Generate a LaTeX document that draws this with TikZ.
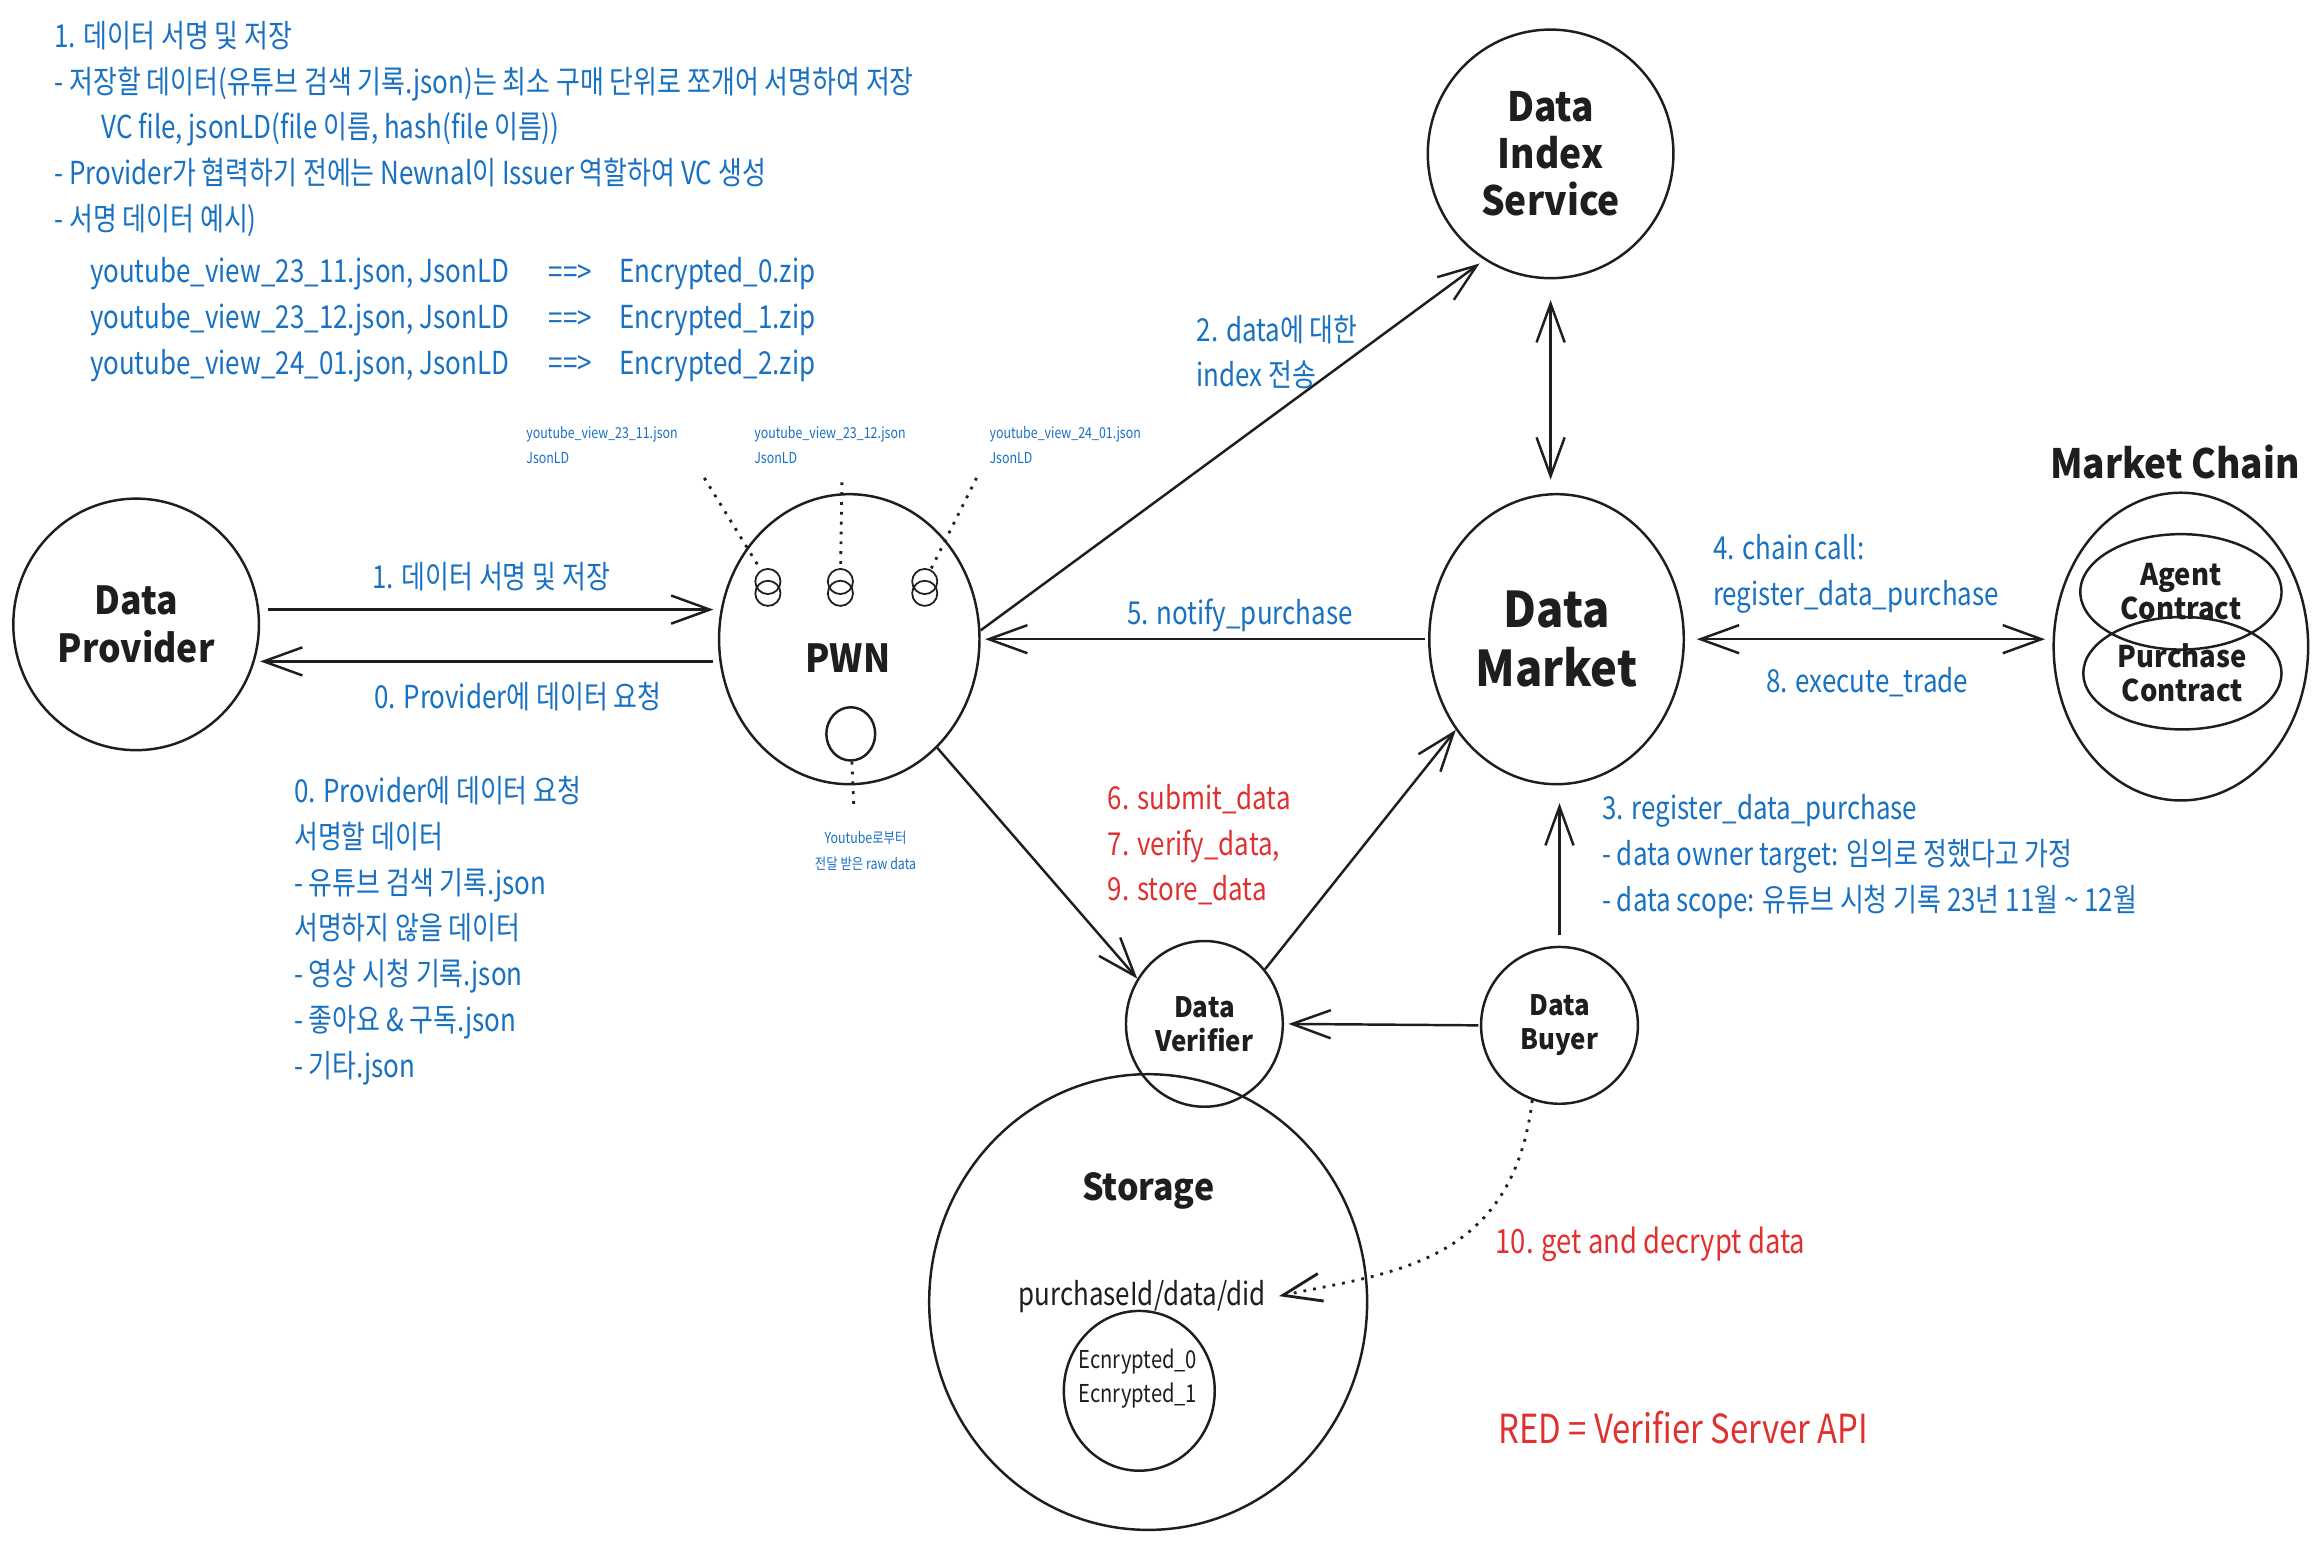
\documentclass[tikz,border=0pt]{standalone}
\usepackage{fontspec}
\setmainfont{Noto Sans CJK KR}[FakeStretch=0.82]
\newfontfamily\titlefont{Noto Sans CJK KR}[FakeStretch=0.92]
\usetikzlibrary{shapes.geometric,arrows.meta}
\definecolor{ink}{HTML}{1E1E1E}
\definecolor{note}{HTML}{1971C2}
\definecolor{api}{HTML}{E03131}
\def\px{0.14796mm} % one pixel of the sketch

\tikzset{every picture/.style={line width=0.7pt}}
\tikzset{
  blob/.style 2 args={draw=ink, ellipse, inner sep=0pt, text=ink,
                minimum width=#1*\px, minimum height=#2*\px, align=center},
  ttl/.style 2 args={font=\titlefont\bfseries\fontsize{#1}{#2}\selectfont},
  txt/.style={font=\fontsize{9}{13}\selectfont, text=#1, inner sep=0pt, align=left},
  txt/.default={note},
  tiny/.style={font=\fontsize{4.3}{7.2}\selectfont, text=note, inner sep=0pt, align=left},
  eye/.style={draw=ink, circle, inner sep=0pt, minimum size=17*\px, line width=0.5pt},
  arr/.style={draw=ink, -{Straight Barb[length=11pt,width=8pt]}},
  arr2/.style={draw=ink, {Straight Barb[length=11pt,width=8pt]}-{Straight Barb[length=11pt,width=8pt]}},
  dots/.style={draw=ink, dotted, line width=0.8pt},
}

\begin{document}
\begin{tikzpicture}[x=\px, y=-\px]
  \path[use as bounding box, fill=white] (0,0) rectangle (1568,1049);

  % notes | top left
  \node[txt, anchor=west] (note1) at (36,87) {1. 데이터 서명 및 저장\\- 저장할 데이터(유튜브 검색 기록.json)는 최소 구매 단위로 쪼개어 서명하여 저장\\\hspace*{4.7mm}VC file, jsonLD(file 이름, hash(file 이름))\\- Provider가 협력하기 전에는 Newnal이 Issuer 역할하여 VC 생성\\- 서명 데이터 예시)};
  \foreach \f/\z [count=\i] in {23\_11/0,23\_12/1,24\_01/2} {
      \node[txt, anchor=west] (ex\i) at (60,{154+31*\i}) {youtube\_view\_\f.json, JsonLD};
      \node[txt, anchor=west] (to\i) at (370,{154+31*\i}) {==>};
      \node[txt, anchor=west] (enc\i) at (418,{154+31*\i}) {Encrypted\_\z.zip};
  };

  % nodes
  \node[blob={166}{170}, ttl={11}{13.4}] (prov) at (92,422) {Data\\Provider};
  \node[blob={176}{196}] (pwn) at (574,432) {};
  \node[ttl={11}{13}, text=ink, inner sep=0pt] (pwnlbl) at (573,445) {PWN};
  \node[blob={166}{168}, ttl={11.5}{13.4}] (dis) at (1048,104) {Data\\Index\\Service};
  \node[blob={172}{196}, ttl={14}{16.8}] (dm) at (1052,432) {Data\\Market};
  \node[blob={172}{208}] (mc) at (1474,437) {};
  \node[ttl={11.5}{13}, text=ink] (mclbl) at (1470,312) {Market Chain};
  \node[blob={136}{78}, ttl={8.5}{9.7}] (agent) at (1474,400) {Agent\\Contract};
  \node[blob={134}{76}, ttl={8.5}{9.7}] (purch) at (1475,455) {Purchase\\Contract};
  \node[blob={106}{112}, ttl={8}{9.7}] (dv) at (814,692) {Data\\Verifier};
  \node[blob={106}{106}, ttl={8}{9.7}] (db) at (1054,693) {Data\\Buyer};
  \node[blob={296}{308}] (st) at (776,880) {};
  \node[ttl={10.5}{12}, text=ink] (stlbl) at (776,805) {Storage};
  \node[txt=ink] (pdd) at (772,876) {purchaseId/data/did};
  \node[blob={102}{108}] (box) at (770,940) {};
  \node[txt=ink, align=center, font=\fontsize{7}{9.7}\selectfont] (boxlbl) at (769,932) {Ecnrypted\_0\\Ecnrypted\_1};

  % pwn face | eyes drawn twice, dotted to the file labels
  \foreach \x/\f [count=\i] in {519/23\_11,568/23\_12,625/24\_01} {
      \node[eye] (eye\i) at (\x,393) {};
      \node[eye] (eyeb\i) at (\x,401) {};
  };
  \node[blob={33}{36}] (mouth) at (575,496) {};
  \coordinate (tip1) at (476,323);
  \coordinate (tip2) at (569,326);
  \coordinate (tip3) at (660,323);
  \coordinate (raw) at (577,544);
  \foreach \i in {1,2,3} \draw[dots] (tip\i) -- (eye\i);
  \draw[dots] (mouth) -- (raw);
  \foreach \x/\f [count=\i] in {355/23\_11,509/23\_12,668/24\_01}
      \node[tiny, anchor=west] (vc\i) at (\x,301) {youtube\_view\_\f.json\\JsonLD};
  \node[tiny, align=center] (rawlbl) at (585,575) {Youtube로부터\\전달 받은 raw data};

  % connectors
  \coordinate (a1s) at ([yshift=10*\px]prov.east);
  \coordinate (a0s) at ([yshift=-15*\px]pwn.west);
  \draw[arr, shorten <=5*\px, shorten >=3*\px] (a1s) -- (a1s -| pwn.west);
  \draw[arr, shorten <=3*\px] (a0s) -- (a0s -| prov.east);
  \draw[arr, shorten <=2*\px, shorten >=3*\px] (dm.west) -- (pwn.east);
  \draw[arr, shorten >=4*\px] ([yshift=6*\px]pwn.east) -- (dis.238);
  \draw[arr2, shorten <=14*\px, shorten >=9*\px] (dis.south) -- (dis.south |- dm.north);
  \draw[arr2, shorten <=8*\px, shorten >=5*\px] (dm.east) -- (dm.east -| mc.west);
  \draw[arr] (pwn.309) -- (dv.146);
  \draw[arr] (dv.42) -- (dm.222);
  \draw[arr, shorten <=7*\px, shorten >=12*\px] (db.north) -- (db.north |- dm.south);
  \draw[arr, shorten <=1*\px, shorten >=3*\px] (db.west) -- (dv.east);
  \draw[dots, arr] (db.250) .. controls (1022,855) and (940,860) .. ([xshift=8*\px]pdd.east);

  % labels
  \node[txt] (l1) at (332,390) {1. 데이터 서명 및 저장};
  \node[txt] (l0) at (350,471) {0. Provider에 데이터 요청};
  \node[txt] (l5) at (838,416) {5. notify\_purchase};
  \node[txt, anchor=west] (l2) at (808,238) {2. data에 대한\\index 전송};
  \node[txt, anchor=west] (l4) at (1157,388) {4. chain call:\\register\_data\_purchase};
  \node[txt] (l8) at (1262,461) {8. execute\_trade};
  \node[txt=api, anchor=west] (l6) at (748,571) {6. submit\_data\\7. verify\_data,\\9. store\_data};
  \node[txt, anchor=west] (l3) at (1082,579) {3. register\_data\_purchase\\- data owner target: 임의로 정했다고 가정\\- data scope: 유튜브 시청 기록 23년 11월 \textasciitilde{} 12월};
  \node[txt=api, anchor=west, font=\fontsize{9.5}{13}\selectfont] (l10) at (1010,841) {10. get and decrypt data};
  \node[txt=api, anchor=west, font=\fontsize{11.4}{13}\selectfont] (legend) at (1012,965) {RED = Verifier Server API};
  \node[txt, anchor=west] (req) at (198,629) {0. Provider에 데이터 요청\\서명할 데이터\\- 유튜브 검색 기록.json\\서명하지 않을 데이터\\- 영상 시청 기록.json\\- 좋아요 \& 구독.json\\- 기타.json};
\end{tikzpicture}
\end{document}
